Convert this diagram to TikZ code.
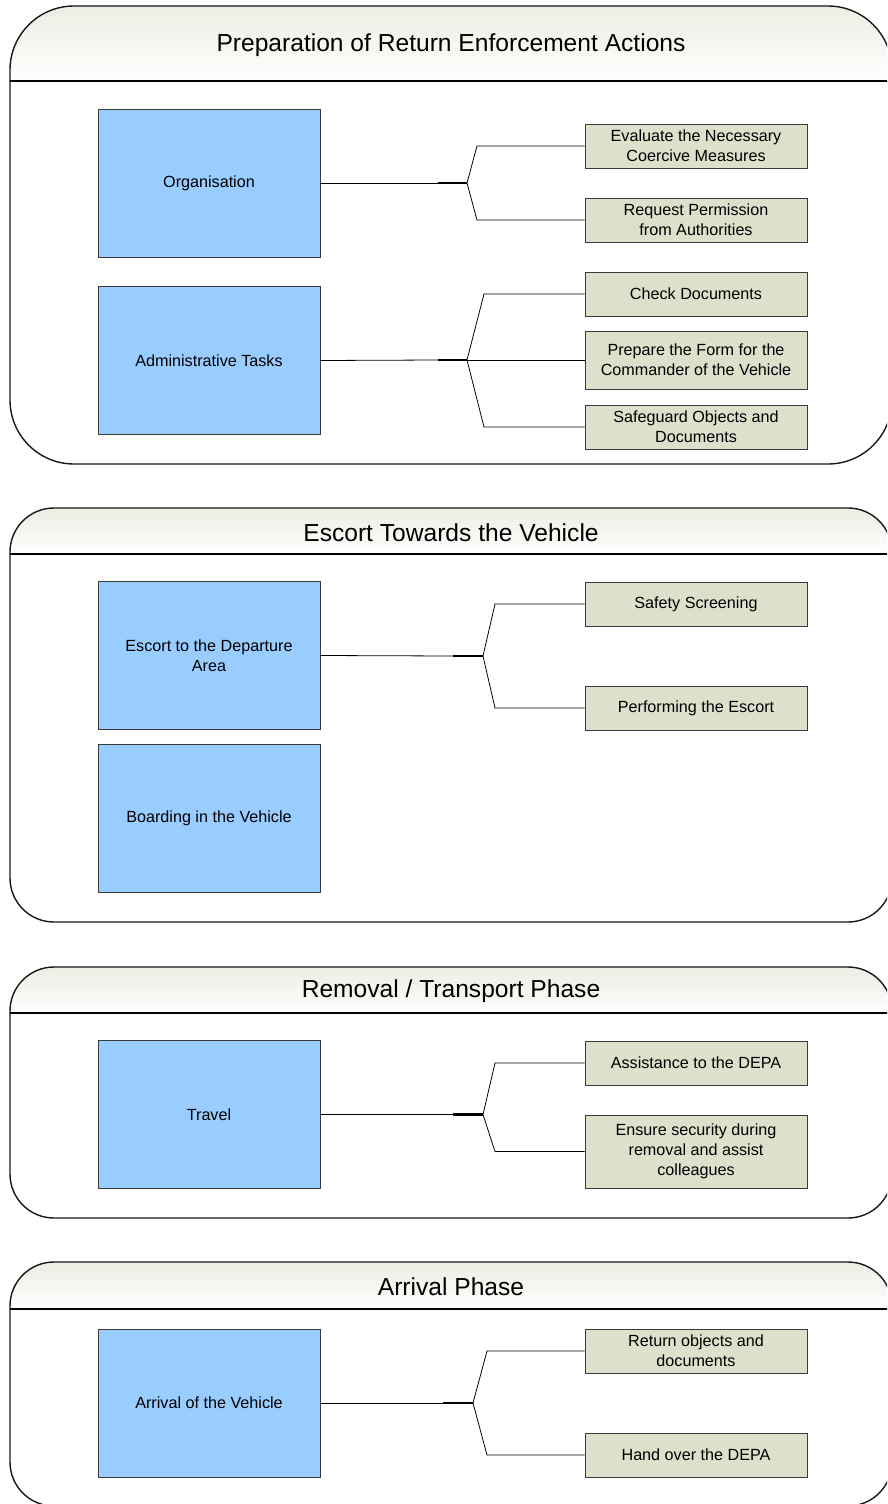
\documentclass[tikz,border=0pt]{standalone}
\usepackage{fontspec}
\setmainfont{Liberation Sans}
\definecolor{taskblue}{HTML}{99CCFF}
\definecolor{stepgreen}{HTML}{DDE1CC}
\definecolor{hdrtop}{HTML}{ECEDE3}
\definecolor{edge}{HTML}{3A3A3A}
\tikzset{
  phase/.style={minimum width=4.44cm, minimum height=2.96cm, inner sep=0pt,
    draw=edge, line width=0.5pt, fill=taskblue, align=center,
    font=\fontsize{9.2}{11.3}\selectfont},
  action/.style={minimum width=4.44cm, minimum height=0.88cm, inner sep=0pt,
    draw=edge, line width=0.5pt, fill=stepgreen, align=center,
    font=\fontsize{9.2}{11.3}\selectfont},
  link/.style={line width=0.45pt, draw=black},
  hub/.style={line width=1.3pt, draw=black},
  lanetitle/.style={font=\fontsize{14}{16}\selectfont}
}
% #1 name, #2 top, #3 header line, #4 bottom, #5 corner radius, #6 title
\newcommand\lane[6]{%
  \def\laneoutline{[rounded corners=#5*0.02cm] (451,#2) -- (892,#2) -- (892,#4)
    -- (10,#4) -- (10,#2) -- cycle}
  \begin{scope}
    \clip \laneoutline;
    \shade[top color=hdrtop, bottom color=white] (0,#2) rectangle (900,#3);
  \end{scope}
  \draw[line width=0.8pt, draw=black!90] \laneoutline;
  \draw[line width=1pt] (10,#3) -- (892,#3);
  \node[lanetitle] (#1) at (451,{(#2+#3)/2+1.5}) {#6};
}
\begin{document}
\begin{tikzpicture}[x=0.02cm, y=-0.02cm]
\useasboundingbox (0,0) rectangle (887,1504);
\clip (0,0) rectangle (887,1504);

% lanes
\lane{prep}{6}{81}{464}{64}{Preparation of Return Enforcement Actions}
\lane{escort}{508}{554}{922}{44}{Escort Towards the Vehicle}
\lane{removal}{967}{1013}{1218}{44}{Removal / Transport Phase}
\lane{arrival}{1262}{1309}{1506}{44}{Arrival Phase}

% preparation
\node[phase] (org) at (209,183) {Organisation};
\node[phase] (adm) at (209,360.5) {Administrative Tasks};
\node[action] (eval) at (696,146) {Evaluate the Necessary\\Coercive Measures};
\node[action] (perm) at (696,220) {Request Permission\\from Authorities};
\node[action] (docs) at (696,294) {Check Documents};
\node[action, minimum height=1.16cm] (form) at (696,360) {Prepare the Form for the\\Commander of the Vehicle};
\node[action] (safe) at (696,427) {Safeguard Objects and\\Documents};

\coordinate (h1) at (438,183);
\coordinate (b1) at (467,183);
\draw[link] (org.east) -- (h1);
\draw[hub] (h1) -- (b1);
\draw[link] (b1) -- (477,146) -- (eval.west);
\draw[link] (b1) -- (477,220) -- (perm.west);

\coordinate (h2) at (438,360);
\coordinate (b2) at (467,360);
\draw[link] (adm.east) -- (h2);
\draw[hub] (h2) -- (b2);
\draw[link] (b2) -- (484,294) -- (docs.west);
\draw[link] (b2) -- (form.west);
\draw[link] (b2) -- (484,427) -- (safe.west);

% escort
\node[phase] (dep) at (209,655.5) {Escort to the Departure\\Area};
\node[phase] (brd) at (209,818.5) {Boarding in the Vehicle};
\node[action] (scr) at (696,604) {Safety Screening};
\node[action] (perf) at (696,708) {Performing the Escort};

\coordinate (h3) at (453,656);
\coordinate (b3) at (483,656);
\draw[link] (dep.east) -- (h3);
\draw[hub] (h3) -- (b3);
\draw[link] (b3) -- (495,604) -- (scr.west);
\draw[link] (b3) -- (495,708) -- (perf.west);

% removal
\node[phase] (trv) at (209,1114.5) {Travel};
\node[action] (asst) at (696,1063) {Assistance to the DEPA};
\node[action, minimum height=1.46cm] (secu) at (696,1151.5) {Ensure security during\\removal and assist\\colleagues};

\coordinate (h4) at (453,1114.5);
\coordinate (b4) at (483,1114.5);
\draw[link] (trv.east) -- (h4);
\draw[hub] (h4) -- (b4);
\draw[link] (b4) -- (495,1063) -- (asst.west);
\draw[link] (b4) -- (495,1151.5) -- (secu.west);

% arrival
\node[phase] (arr) at (209,1403) {Arrival of the Vehicle};
\node[action] (ret) at (696,1351) {Return objects and\\documents};
\node[action] (hand) at (696,1455) {Hand over the DEPA};

\coordinate (h5) at (443,1403);
\coordinate (b5) at (473,1403);
\draw[link] (arr.east) -- (h5);
\draw[hub] (h5) -- (b5);
\draw[link] (b5) -- (487,1351) -- (ret.west);
\draw[link] (b5) -- (487,1455) -- (hand.west);
\end{tikzpicture}
\end{document}
